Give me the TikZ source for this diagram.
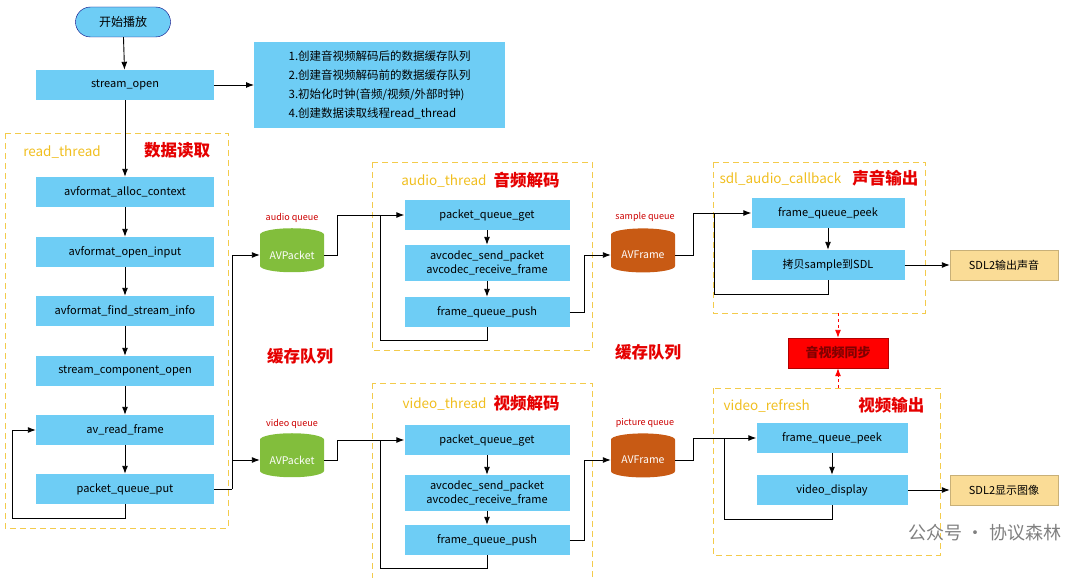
\documentclass[tikz,border=0pt]{standalone}
\usepackage{fontspec}
\setmainfont{Noto Sans CJK SC}
\usetikzlibrary{shapes.geometric,arrows.meta}
\definecolor{boxblue}{RGB}{110,205,245}
\definecolor{pktgreen}{RGB}{130,190,60}
\definecolor{frmorange}{RGB}{200,90,20}
\definecolor{ttlyellow}{RGB}{240,190,30}
\definecolor{outyellow}{RGB}{250,220,150}
\tikzset{
  stage/.style={fill=boxblue, minimum height=30pt, inner sep=1pt, font=\fontsize{11}{13}\selectfont},
  thread/.style={draw=ttlyellow!80, dashed, line width=1pt, dash pattern=on 6pt off 4pt},
  flow/.style={-{Latex[length=8pt,width=6pt]}, line width=0.9pt},
  line/.style={line width=0.9pt},
  queue/.style={cylinder, shape border rotate=90, aspect=0.25, minimum width=64pt, minimum height=44pt, text=white, font=\fontsize{10.5}{12}\selectfont},
  qlabel/.style={text=red!80!black, font=\fontsize{9}{10}\selectfont},
  ttl/.style={text=ttlyellow, font=\fontsize{13.5}{15}\selectfont},
  cn/.style={text=red!90!black, font=\fontsize{16.5}{19}\selectfont\bfseries},
  output/.style={fill=outyellow, draw=outyellow!80!black, minimum width=108pt, minimum height=30pt, font=\fontsize{11}{13}\selectfont}
}
\begin{document}
\begin{tikzpicture}[x=1pt,y=-1pt]
\useasboundingbox (0,0) rectangle (1080,578);

% thread frames
\draw [thread] (5,133) rectangle (228,528);
\draw [thread] (372,162) rectangle (592,350);
\draw [thread] (372,383) rectangle (592,590);
\draw [thread] (713,162) rectangle (925,313);
\draw [thread] (713,388) rectangle (940,555);

% start and note
\node (start) [draw=blue!50!black, fill=boxblue, rounded corners=15pt, minimum width=95pt, minimum height=30pt, font=\fontsize{12}{14}\selectfont] at (123,22) {开始播放};
\node (open) [stage, minimum width=178pt] at (125,85) {stream\_open};
\node (note) [fill=boxblue, minimum width=251pt, minimum height=86pt, align=left, anchor=north west, font=\fontsize{11.5}{19}\selectfont, inner sep=0pt] at (254,42) {1.创建音视频解码后的数据缓存队列\\2.创建音视频解码前的数据缓存队列\\3.初始化时钟(音频/视频/外部时钟)\\4.创建数据读取线程read\_thread};
\draw [flow] (open) -- (note.west |- open);

% read_thread
\node [ttl] at (62,152) {read\_thread};
\node [cn] at (177,150) {数据读取};
\node (alloc) [stage, minimum width=178pt] at (125,192) {avformat\_alloc\_context};
\node (input) [stage, minimum width=178pt] at (125,252) {avformat\_open\_input};
\node (info) [stage, minimum width=178pt] at (125,311) {avformat\_find\_stream\_info};
\node (comp) [stage, minimum width=178pt] at (125,371) {stream\_component\_open};
\node (read) [stage, minimum width=178pt] at (125,430) {av\_read\_frame};
\node (put) [stage, minimum width=178pt] at (125,489) {packet\_queue\_put};
\draw [flow] (start) -- (open);
\draw [flow] (open) -- (alloc);
\draw [flow] (alloc) -- (input);
\draw [flow] (input) -- (info);
\draw [flow] (info) -- (comp);
\draw [flow] (comp) -- (read);
\draw [flow] (read) -- (put);
\draw [flow] (put.south) -- ++(0,14) -| (12,430) -- (read.west);

% packet queues
\node [qlabel] at (292,218) {audio queue};
\node (apkt) [queue, fill=pktgreen] at (292,255) {AVPacket};
\node [qlabel] at (292,424) {video queue};
\node (vpkt) [queue, fill=pktgreen] at (292,460) {AVPacket};
\coordinate (split) at (232,489);
\draw [line] (put.east) -- (split);
\draw [flow] (split) |- (apkt.west);
\draw [flow] (split) |- (vpkt.west);
\node [cn] at (300,356) {缓存队列};
\node [cn] at (648,352) {缓存队列};

% audio_thread
\node [ttl, anchor=east] at (490,181) {audio\_thread};
\node [cn, anchor=west] at (490,180) {音频解码};
\node (aget) [stage, minimum width=165pt] at (487,215) {packet\_queue\_get};
\node (adec) [stage, minimum width=165pt, minimum height=36pt, align=center, font=\fontsize{11}{14}\selectfont] at (487,263) {avcodec\_send\_packet\\avcodec\_receive\_frame};
\node (apush) [stage, minimum width=165pt] at (487,312) {frame\_queue\_push};
\draw [flow] (apkt.east) -- ++(13,0) |- (aget.west);
\draw [flow] (aget) -- (adec);
\draw [flow] (adec) -- (apush);
\draw [line] (apush.south) -- ++(0,13) -| (380,215);

% video_thread
\node [ttl, anchor=east] at (490,404) {video\_thread};
\node [cn, anchor=west] at (490,403) {视频解码};
\node (vget) [stage, minimum width=165pt] at (487,440) {packet\_queue\_get};
\node (vdec) [stage, minimum width=165pt, minimum height=36pt, align=center, font=\fontsize{11}{14}\selectfont] at (487,493) {avcodec\_send\_packet\\avcodec\_receive\_frame};
\node (vpush) [stage, minimum width=165pt] at (487,540) {frame\_queue\_push};
\draw [flow] (vpkt.east) -- ++(13,0) |- (vget.west);
\draw [flow] (vget) -- (vdec);
\draw [flow] (vdec) -- (vpush);
\draw [line] (vpush.south) -- ++(0,13) -| (380,440);

% frame queues
\node [qlabel] at (645,217) {sample queue};
\node (afrm) [queue, fill=frmorange] at (643,255) {AVFrame};
\node [qlabel] at (645,423) {picture queue};
\node (vfrm) [queue, fill=frmorange] at (643,460) {AVFrame};
\draw [flow] (apush.east) -- ++(15,0) |- (afrm.west);
\draw [flow] (vpush.east) -- ++(15,0) |- (vfrm.west);

% sdl_audio_callback
\node [ttl, anchor=west] at (716,179) {sdl\_audio\_callback};
\node [cn, anchor=east] at (922,178) {声音输出};
\node (apeek) [stage, minimum width=153pt] at (828,213) {frame\_queue\_peek};
\node (copy) [stage, minimum width=153pt] at (828,265) {拷贝sample到SDL};
\node (sound) [output] at (1004,265) {SDL2输出声音};
\draw [flow] (afrm.east) -- ++(18,0) |- (apeek.west);
\draw [flow] (apeek) -- (copy);
\draw [line] (copy.south) -- ++(0,14) -| (714,213);
\draw [flow] (copy) -- (sound);

% video_refresh
\node [ttl, anchor=west] at (720,406) {video\_refresh};
\node [cn, anchor=east] at (928,405) {视频输出};
\node (vpeek) [stage, minimum width=151pt] at (832,438) {frame\_queue\_peek};
\node (show) [stage, minimum width=151pt] at (832,490) {video\_display};
\node (image) [output] at (1004,490) {SDL2显示图像};
\draw [flow] (vfrm.east) -- ++(18,0) |- (vpeek.west);
\draw [flow] (vpeek) -- (show);
\draw [line] (show.south) -- ++(0,14) -| (724,438);
\draw [flow] (show) -- (image);

% sync
\node (sync) [fill=red, draw=red!70!black, minimum width=100pt, minimum height=30pt, font=\fontsize{13}{15}\selectfont\bfseries, text=red!50!black] at (838,353) {音视频同步};
\coordinate (atop) at (838,313);
\coordinate (vbot) at (838,388);
\draw [flow, red, dashed] (atop) -- (sync);
\draw [flow, red, dashed] (vbot) -- (sync);

% watermark
\node [text=gray, font=\fontsize{18}{20}\selectfont] at (985,533) {公众号 · 协议森林};
\end{tikzpicture}
\end{document}
